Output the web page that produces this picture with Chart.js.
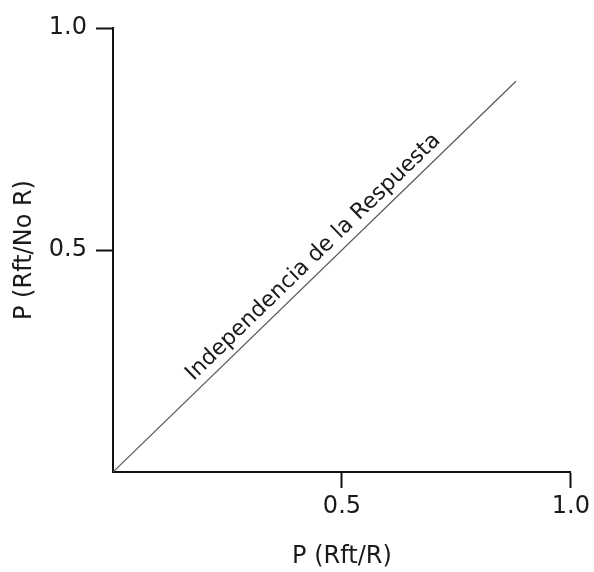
<!DOCTYPE html>
<html>
<head>
<meta charset="utf-8">
<script src="https://cdn.jsdelivr.net/npm/chart.js@4"></script>
<style>
  html, body { margin: 0; padding: 0; background: #ffffff; }
  #wrap { width: 594px; height: 572px; position: relative; }
</style>
</head>
<body>
<div id="wrap"><canvas id="c"></canvas></div>
<script>
// Data
const lineX = [0, 0.88];              // independence line y = x
const lineY = [0, 0.88];
const xTickValues = [0.5, 1.0];
const yTickValues = [0.5, 1.0];
const xTitle = 'P (Rft/R)';
const yTitle = 'P (Rft/No R)';
const annotationText = 'Independencia de la Respuesta';
const annotationAt = [0.46, 0.46];

const FONT = '"DejaVu Sans", Verdana, sans-serif';
const INK = '#1a1a1a';

const annotationPlugin = {
  id: 'lineLabel',
  afterDatasetsDraw(chart) {
    const xs = chart.scales.x, ys = chart.scales.y;
    const x0 = xs.getPixelForValue(lineX[0]), y0 = ys.getPixelForValue(lineY[0]);
    const x1 = xs.getPixelForValue(lineX[1]), y1 = ys.getPixelForValue(lineY[1]);
    const ang = Math.atan2(y1 - y0, x1 - x0);
    const px = xs.getPixelForValue(annotationAt[0]);
    const py = ys.getPixelForValue(annotationAt[1]);
    const ctx = chart.ctx;
    ctx.save();
    ctx.translate(px, py);
    ctx.rotate(ang);
    ctx.font = '22px ' + FONT;
    ctx.fillStyle = INK;
    ctx.textAlign = 'center';
    ctx.textBaseline = 'alphabetic';
    ctx.fillText(annotationText, 0, -9);
    ctx.restore();
  }
};

new Chart(document.getElementById('c'), {
  type: 'scatter',
  data: {
    datasets: [{
      data: lineX.map((x, i) => ({ x: x, y: lineY[i] })),
      showLine: true,
      borderColor: '#555555',
      borderWidth: 1.2,
      pointRadius: 0,
      fill: false
    }]
  },
  options: {
    responsive: true,
    maintainAspectRatio: false,
    animation: false,
    layout: { padding: { top: 28, right: 22, left: 0, bottom: 0 } },
    plugins: { legend: { display: false }, tooltip: { enabled: false } },
    scales: {
      x: {
        type: 'linear', min: 0, max: 1,
        afterBuildTicks: s => { s.ticks = xTickValues.map(v => ({ value: v })); },
        afterFit: s => { s.height = 100; },
        ticks: {
          callback: v => Number(v).toFixed(1),
          font: { family: FONT, size: 24 }, color: INK, padding: 4,
          maxRotation: 0, autoSkip: false
        },
        grid: { display: true, drawOnChartArea: false, drawTicks: true, tickLength: 16, tickWidth: 2, tickColor: '#111' },
        border: { display: true, color: '#111', width: 2 },
        title: { display: true, text: xTitle, font: { family: FONT, size: 24 }, color: INK, padding: { top: 0, bottom: 1 } }
      },
      y: {
        type: 'linear', min: 0, max: 1,
        afterBuildTicks: s => { s.ticks = yTickValues.map(v => ({ value: v })); },
        afterFit: s => { s.width = 113; },
        ticks: {
          callback: v => Number(v).toFixed(1),
          font: { family: FONT, size: 24 }, color: INK, padding: 9,
          autoSkip: false
        },
        grid: { display: true, drawOnChartArea: false, drawTicks: true, tickLength: 17, tickWidth: 2, tickColor: '#111' },
        border: { display: true, color: '#111', width: 2 },
        title: { display: true, text: yTitle, font: { family: FONT, size: 24 }, color: INK, padding: { top: 10, bottom: 0 } }
      }
    }
  },
  plugins: [annotationPlugin]
});
</script>
</body>
</html>
